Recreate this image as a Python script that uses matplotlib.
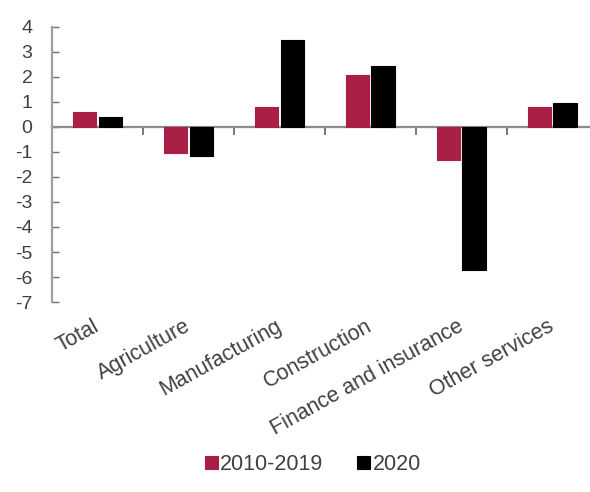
import matplotlib
matplotlib.use("Agg")
import matplotlib.pyplot as plt
import numpy as np

plt.rcParams['font.family'] = ['Liberation Sans', 'DejaVu Sans']
plt.rcParams['axes.unicode_minus'] = False

# sector contributions, percentage points
sectors = ["Total", "Agriculture", "Manufacturing", "Construction",
           "Finance and insurance", "Other services"]
avg_2010_2019 = [0.58, -1.06, 0.78, 2.07, -1.33, 0.78]
val_2020 = [0.40, -1.15, 3.46, 2.44, -5.72, 0.96]
series_names = ["2010-2019", "2020"]

red = "#AA1F46"
grey_txt = "#404040"
axis_grey = "#8c8c8c"

fig = plt.figure(figsize=(5.90, 4.92), dpi=100)
ax = fig.add_axes([0.0881, 0.386, 0.925, 0.5597])

x = np.arange(len(sectors))
w = 0.255
off = 0.14
ax.bar(x - off, avg_2010_2019, w, color=red, edgecolor=red, linewidth=0.8,
       joinstyle='round', label=series_names[0], zorder=3)
ax.bar(x + off, val_2020, w, color="black", edgecolor="black", linewidth=0.8,
       joinstyle='round', label=series_names[1], zorder=3)

ax.set_xlim(-0.5, len(sectors) - 0.5)
ax.set_ylim(-7, 4)

for s in ["top", "right"]:
    ax.spines[s].set_visible(False)
ax.spines["left"].set_color("#a0a0a0")
ax.spines["left"].set_linewidth(1.6)
ax.spines["bottom"].set_position(("data", 0))
ax.spines["bottom"].set_color(axis_grey)
ax.spines["bottom"].set_linewidth(1.6)
ax.spines["bottom"].set_zorder(2)

ax.set_yticks(range(-7, 5))
ax.tick_params(axis='y', direction='in', length=5, width=1, color="#707070",
               labelsize=14, labelcolor=grey_txt, pad=14)

# category boundary ticks on the zero line, labels placed below the plot
ax.set_xticks(np.arange(0.5, len(sectors) - 0.5))
ax.set_xticklabels([])
ax.tick_params(axis='x', direction='out', length=5.5, width=1.2, color="#606060")
for i, name in enumerate(sectors):
    ax.text(i - 0.05, -0.05, name, transform=ax.get_xaxis_transform(),
            rotation=29, ha='right', va='top', rotation_mode='anchor',
            fontsize=15.5, color=grey_txt)

leg = fig.legend(loc='lower center', bbox_to_anchor=(0.53, -0.005), ncol=2,
                 frameon=False, fontsize=15.5, handlelength=0.6, handleheight=0.6,
                 handletextpad=0.1, columnspacing=1.6)
for t in leg.get_texts():
    t.set_color(grey_txt)

fig.savefig("out.png", dpi=100)
